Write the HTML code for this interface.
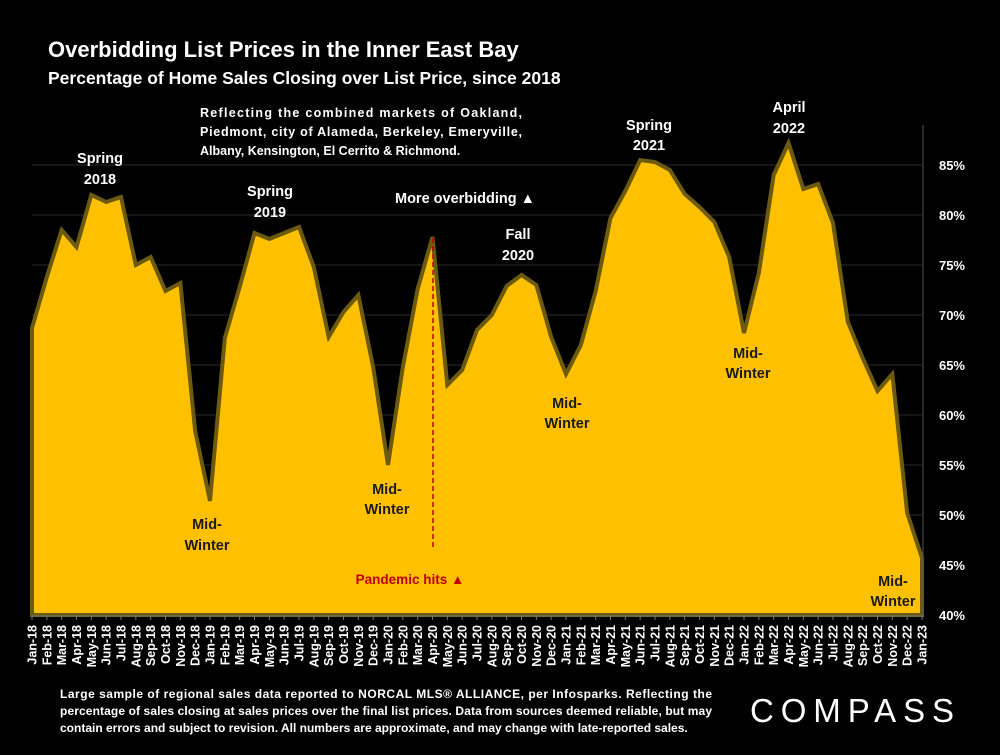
<!DOCTYPE html>
<html><head><meta charset="utf-8"><style>
body{margin:0;background:#000;}
svg text{font-family:"Liberation Sans",sans-serif;font-weight:bold;}
</style></head><body>
<svg id="chart" width="1000" height="750" viewBox="0 0 1000 750" xmlns="http://www.w3.org/2000/svg">
<rect width="1000" height="750" fill="#000"/>
<text x="48" y="57" fill="#fff" font-size="22">Overbidding List Prices in the Inner East Bay</text>
<text x="48" y="84" fill="#fff" font-size="17.5">Percentage of Home Sales Closing over List Price, since 2018</text>
<g id="grid"></g>
<g id="area"></g>
<g id="yaxis"></g>
<g id="xaxis"></g>
<g fill="#fff" font-size="12.5">
<text x="200" y="117" textLength="322" lengthAdjust="spacing">Reflecting the combined markets of Oakland,</text>
<text x="200" y="136" textLength="322" lengthAdjust="spacing">Piedmont, city of Alameda, Berkeley, Emeryville,</text>
<text x="200" y="155">Albany, Kensington, El Cerrito &amp; Richmond.</text>
</g>
<g fill="#fff" font-size="14.5" text-anchor="middle">
<text x="100" y="163">Spring</text><text x="100" y="184">2018</text>
<text x="270" y="196">Spring</text><text x="270" y="217">2019</text>
<text x="518" y="239">Fall</text><text x="518" y="260">2020</text>
<text x="649" y="130">Spring</text><text x="649" y="150">2021</text>
<text x="789" y="112">April</text><text x="789" y="133">2022</text>
<text x="465" y="203">More overbidding ▲</text>
</g>
<g fill="#1a1a1a" font-size="14.5" text-anchor="middle">
<text x="207" y="529">Mid-</text><text x="207" y="550">Winter</text>
<text x="387" y="494">Mid-</text><text x="387" y="514">Winter</text>
<text x="567" y="408">Mid-</text><text x="567" y="428">Winter</text>
<text x="748" y="358">Mid-</text><text x="748" y="378">Winter</text>
<text x="893" y="586">Mid-</text><text x="893" y="606">Winter</text>
</g>
<line x1="433" y1="238" x2="433" y2="548" stroke="#c00000" stroke-width="1.5" stroke-dasharray="5,3"/>
<text x="410" y="584" fill="#c00000" font-size="13.5" text-anchor="middle">Pandemic hits ▲</text>
<g fill="#fff" font-size="12">
<text x="60" y="698" textLength="652" lengthAdjust="spacing">Large sample of regional sales data reported to NORCAL MLS® ALLIANCE, per Infosparks. Reflecting the</text>
<text x="60" y="715" textLength="652" lengthAdjust="spacing">percentage of sales closing at sales prices over the final list prices. Data from sources deemed reliable, but may</text>
<text x="60" y="732">contain errors and subject to revision. All numbers are approximate, and may change with late-reported sales.</text>
</g>
<text x="750" y="722" fill="#fff" font-size="33" style="font-weight:normal" letter-spacing="4" textLength="208" lengthAdjust="spacing">COMPASS</text>
<script>
const months=["Jan","Feb","Mar","Apr","May","Jun","Jul","Aug","Sep","Oct","Nov","Dec"];
const categories=[];
for(let y=18;y<=22;y++)for(const m of months)categories.push(m+"-"+y);
categories.push("Jan-23");
const values=[68.7,73.8,78.5,76.8,82,81.3,81.8,75,75.8,72.4,73.2,58.4,51.4,67.7,72.8,78.2,77.6,78.2,78.8,74.8,67.8,70.3,72,64.8,55,64.8,72.6,77.8,63,64.5,68.5,70,72.9,74,73,67.8,64.1,67,72.4,79.7,82.4,85.5,85.3,84.5,82.1,80.8,79.3,75.8,68.2,74.2,84,87.2,82.6,83.1,79.2,69.3,65.7,62.4,64.1,50.2,45.7];
const yTicks=[40,45,50,55,60,65,70,75,80,85];
const NS="http://www.w3.org/2000/svg";
const X0=32,X1=922,Y0=615;
const x=i=>X0+(X1-X0)*i/(categories.length-1);
const y=v=>Y0-(v-40)*10;
function mk(tag,attrs,parent){const e=document.createElementNS(NS,tag);for(const k in attrs)e.setAttribute(k,attrs[k]);parent.appendChild(e);return e;}
const grid=document.getElementById('grid'),yax=document.getElementById('yaxis'),xax=document.getElementById('xaxis'),area=document.getElementById('area');
yTicks.forEach(t=>{
  if(t>40){const g=mk('line',{x1:X0,x2:X1,y1:y(t),y2:y(t),stroke:'#2a2a2a','stroke-width':1},grid);
  
  }
  const tx=mk('text',{x:965,y:y(t)+5,fill:'#fff','font-size':13,'text-anchor':'end'},yax);
  tx.textContent=t+'%';
  
  
});
const ax=mk('line',{x1:X1+1,x2:X1+1,y1:125,y2:Y0,stroke:'#555','stroke-width':1},yax);


let d='M'+x(0)+','+Y0;
values.forEach((v,i)=>{d+=' L'+x(i).toFixed(2)+','+y(v).toFixed(2);});
d+=' L'+x(values.length-1)+','+Y0+' Z';
const p=mk('path',{d:d,fill:'#FFC000',stroke:'#6b5a10','stroke-width':4,'stroke-linejoin':'miter'},area);


const bl=mk('line',{x1:X0,x2:X1+2,y1:Y0+1,y2:Y0+1,stroke:'#777','stroke-width':1},xax);


categories.forEach((c,i)=>{
  const tk=mk('line',{x1:x(i),x2:x(i),y1:Y0+1,y2:Y0+5,stroke:'#777'},xax);
  
  
  const t=mk('text',{x:0,y:0,fill:'#fff','font-size':12.5,'text-anchor':'end',transform:`translate(${x(i)+4.5},${Y0+10}) rotate(-90)`},xax);
  t.textContent=c;
  
  
});
</script>
</svg>
</body></html>
